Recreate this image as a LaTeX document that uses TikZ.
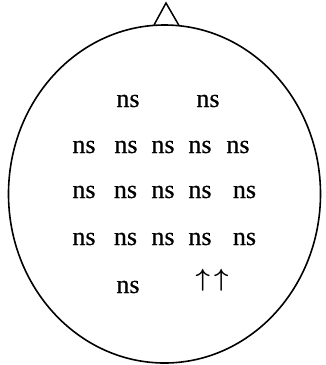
\documentclass[tikz,border=0pt]{standalone}
\usepackage{amsmath}
\usepackage{fontspec}
\setmainfont{Liberation Serif}
\newfontfamily\resfont[FakeBold=0.4]{Liberation Serif}
\usetikzlibrary{positioning}
\tikzset{
    % --- Head outline (top view) ---
    head/.style = {
        draw, line width=1.6pt
    },
    % --- Nose marker ---
    nose/.style = {
        draw, line width=1.5pt, line join=miter
    },
    % --- Result label at an electrode site ---
    result/.style = {
        font=\resfont\fontsize{26}{30}\selectfont,
        inner sep=0pt
    }
}

\begin{document}
\begin{tikzpicture}[x=1pt, y=-1pt]

\useasboundingbox (0,0) rectangle (326,365);

% ---------------------------------------------------------
% Head and nose
% ---------------------------------------------------------
\coordinate (centre) at (164.5,194);
\draw[head] (centre) ellipse [x radius=156, y radius=169];

\coordinate (noseL) at (154,25);
\coordinate (noseTip) at (166,3);
\coordinate (noseR) at (179,25.5);
\draw[nose] (noseL) -- (noseTip) -- (noseR);

% ---------------------------------------------------------
% Electrode results, row by row
% ---------------------------------------------------------
\node[result] (r1c1) at (128,101) {ns};
\node[result] (r1c2) at (208,101) {ns};

\foreach \x [count=\i] in {84,126,163,200,238}
    \node[result] (r2c\i) at (\x,147) {ns};

\foreach \x [count=\i] in {84,125.5,163,200,244.5}
    \node[result] (r3c\i) at (\x,192) {ns};

\foreach \x [count=\i] in {84,125.5,163,200,244.5}
    \node[result] (r4c\i) at (\x,239) {ns};

\node[result] (r5c1) at (128,287) {ns};
\node[result] (r5c2) at (212,280) {$\boldsymbol{\uparrow}\,\boldsymbol{\uparrow}$};

\end{tikzpicture}
\end{document}
